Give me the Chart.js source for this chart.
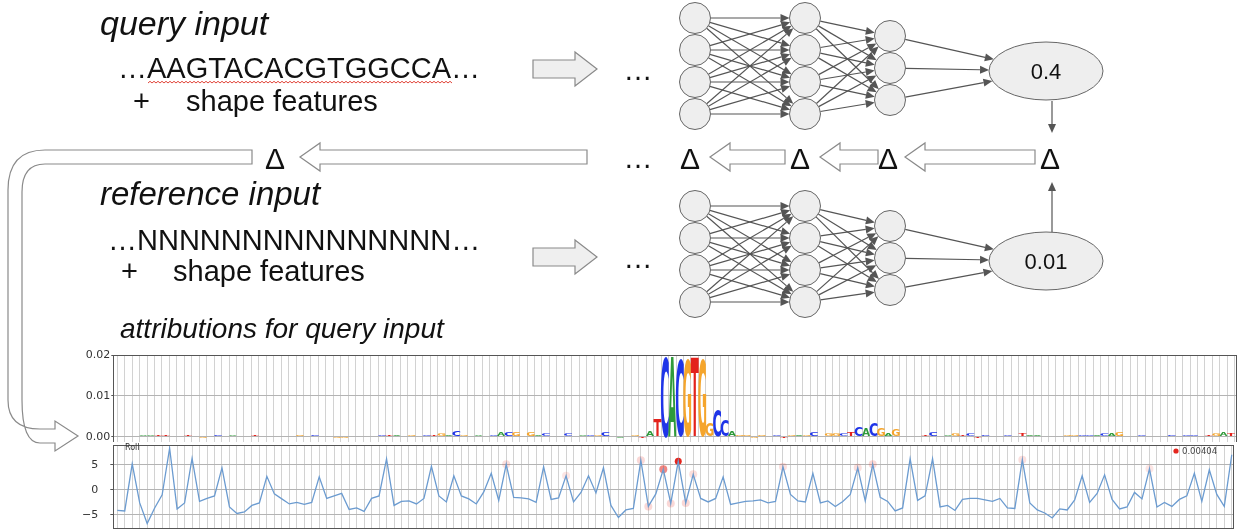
<!DOCTYPE html>
<html lang="en">
<head>
  <meta charset="UTF-8" />
  <title>DeepLIFT attributions</title>
  <script src="https://cdn.jsdelivr.net/npm/chart.js"></script>
  <style>
    html, body { margin: 0; padding: 0; background: #fff; }
    body { width: 1238px; height: 529px; overflow: hidden; position: relative; font-family: "Liberation Sans", Arial, sans-serif; }
    #diagram { position: absolute; left: 0; top: 0; z-index: 2; pointer-events: none; }
    canvas { position: absolute; }
    #logoChart { left: 80px; top: 345px; }
    #rollChart { left: 80px; top: 441px; }
    .lbl { position: absolute; font-family: "DejaVu Sans", sans-serif; color: #333; white-space: nowrap; z-index: 3; }
  </style>
</head>
<body>
  <svg id="diagram" width="1238" height="529"></svg>
  <canvas id="logoChart" width="1158" height="97"></canvas>
  <canvas id="rollChart" width="1158" height="94"></canvas>
  <div class="lbl" style="left:125px;top:443px;font-size:8px;">Roll</div>
  <div class="lbl" style="left:1182px;top:446px;font-size:8.5px;color:#444;">0.00404</div>

  <script>
    // ---- data ----
    // sequence logo (attribution per base), positions 0..149
    const logoSeq = 'AGCAATTTGTCGACGAGCTACAGCGACATGGCATACTACGACTGACGAAGCACGAGACATCAACGCTATGTATCACGTGGCCAGGGGACTGAGCAGGCTCACGAGTGGTCAAGTCTCACCATAAGACGGCCACAGTACAGACACCGTGAT';
    const logoH = [
      0.0002, 0.0001, 0.0001, 0.0003, 0.0003, 0.0004, 0.0004, 0.0002, 0.0001, 0.0004,
      0.0001, -0.0003, 0.0001, 0.0003, 0.0001, 0.0003, 0.0002, 0.0001, 0.0003, 0.0001,
      0.0001, 0.0001, 0.0002, 0.0001, 0.0003, 0.0001, 0.0003, 0.0001, 0.0001, -0.0003,
      -0.0003, 0.0001, 0.0001, 0.0001, 0.0001, 0.0004, 0.0004, 0.0005, 0.0001, 0.0005,
      0.0001, 0.0004, 0.0004, 0.0009, 0.0004, 0.0015, 0.0004, 0.0001, 0.0003, 0.0001,
      0.0005, 0.0011, 0.0012, 0.0011, 0.0002, 0.0010, 0.0005, 0.0007, 0.0001, 0.0001,
      0.0007, 0.0001, 0.0003, 0.0004, 0.0005, 0.0012, 0.0001, -0.0005, 0.0001, 0.0004,
      -0.0005, 0.0015, 0.0043, 0.0198, 0.0195, 0.0192, 0.0192, 0.0196, 0.0192, 0.0033,
      0.0065, 0.0040, 0.0015, 0.0003, 0.0003, -0.0005, 0.0003, 0.0002, 0.0005, -0.0005,
      0.0005, 0.0005, 0.0004, 0.0012, 0.0001, 0.0006, 0.0006, 0.0006, 0.0010, 0.0025,
      0.0020, 0.0032, 0.0020, 0.0008, 0.0018, 0.0002, 0.0001, -0.0002, 0.0003, 0.0012,
      0.0001, 0.0003, 0.0006, 0.0005, 0.0008, -0.0003, 0.0003, 0.0001, 0.0002, 0.0005,
      0.0001, 0.0008, 0.0004, 0.0004, 0.0001, 0.0001, 0.0001, 0.0005, 0.0005, 0.0004,
      0.0004, 0.0004, 0.0008, 0.0006, 0.0011, 0.0002, 0.0001, 0.0004, 0.0001, 0.0001,
      0.0001, 0.0003, 0.0001, 0.0004, 0.0004, 0.0001, 0.0005, 0.0006, 0.0009, 0.0007
    ];
    const logoTicks = [0, 0.01, 0.02];

    // "Roll" shape feature track
    const rollVals = [
      -4.1, -4.2, 5.2, -2.6, -6.7, -3.6, -1.0, 8.3, -3.8, -2.6,
      6.3, -2.3, -1.7, -1.2, 4.4, -3.4, -4.7, -4.4, -3.1, -2.6,
      2.7, -0.8, -1.8, -2.8, -2.5, -2.9, -2.5, 2.6, -1.7, -1.2,
      -0.7, -3.9, -3.6, -4.3, -1.7, -1.2, 6.2, -3.1, -2.3, -2.2,
      -2.8, -1.7, 4.7, -1.2, -2.4, 2.8, -1.2, -1.8, -2.8, -0.4,
      3.3, -2.1, 5.1, -1.5, -1.6, -1.8, -2.5, 4.6, -1.9, -1.6,
      2.8, -2.4, -0.5, 2.8, -0.6, 4.4, -3.1, -5.5, -4.0, -3.7,
      5.9, -3.3, -0.8, 4.1, -2.7, 5.7, -2.6, 3.1, -1.7, -2.4,
      -1.7, 2.6, -2.9, -2.6, -2.3, -2.2, -2.0, -2.6, -2.3, 4.6,
      -0.9, -2.2, -2.4, 3.3, -2.6, -2.2, -3.3, -2.3, -0.9, 4.4,
      -2.2, 5.1, -1.5, -2.3, -4.2, -3.6, 6.2, -2.1, -1.2, 6.2,
      -3.4, -3.1, -4.1, -1.9, -1.7, -1.7, -2.0, -2.3, -1.7, -3.6,
      -3.7, 6.0, -2.6, -4.0, -4.6, -5.6, -3.8, -4.0, -2.0, 2.8,
      -2.5, -0.7, 3.0, -1.9, -3.8, -3.4, -0.5, -1.8, 4.2, -3.4,
      -2.5, -3.3, -1.9, -1.2, 3.3, -2.3, 4.0, -0.9, -3.3, 7.0
    ];
    const rollTicks = [-5, 0, 5];

    // highlighted positions (red dots) and their opacity
    const markIdx   = [52, 60, 70, 71, 73, 74, 75, 76, 77, 89, 99, 101, 121, 138];
    const markAlpha = [0.15, 0.12, 0.18, 0.18, 0.55, 0.18, 1.0, 0.18, 0.15, 0.15, 0.15, 0.18, 0.15, 0.12];

    const baseColors = { A: '#2e9a3a', C: '#1f35e8', G: '#f5a52c', T: '#e3221c' };
    const xMin = -0.53, xMax = 149.3;
    const posIdx = rollVals.map((v, i) => i);

    Chart.defaults.font.family = '"DejaVu Sans", sans-serif';
    Chart.defaults.color = '#333';

    // ---- plugins ----
    const frame = {
      id: 'frame',
      afterDraw(chart) {
        const a = chart.chartArea, c = chart.ctx;
        c.save();
        c.strokeStyle = '#555';
        c.lineWidth = 1;
        c.strokeRect(Math.round(a.left) + 0.5, Math.round(a.top) + 0.5, Math.round(a.right - a.left) - 1, Math.round(a.bottom - a.top));
        c.restore();
      }
    };

    function drawLetter(c, ch, color, left, width, base, top) {
      const h = base - top;
      if (Math.abs(h) < 0.25) return;
      c.save();
      c.font = 'bold 100px "DejaVu Sans"';
      const m = c.measureText(ch);
      const gw = m.actualBoundingBoxLeft + m.actualBoundingBoxRight;
      const gh = m.actualBoundingBoxAscent;
      c.translate(left, base);
      c.scale(width / gw, h / gh);
      c.fillStyle = color;
      c.fillText(ch, m.actualBoundingBoxLeft, 0);
      c.restore();
    }

    const logoLetters = {
      id: 'logoLetters',
      afterDatasetsDraw(chart) {
        const meta = chart.getDatasetMeta(0);
        meta.data.forEach((bar, i) => {
          const ch = logoSeq[i];
          drawLetter(chart.ctx, ch, baseColors[ch], bar.x - bar.width / 2, bar.width, bar.base, bar.y);
        });
      }
    };

    const xScaleCommon = (tickLen) => ({
      type: 'linear', min: xMin, max: xMax,
      afterBuildTicks: s => { s.ticks = posIdx.map(v => ({ value: v })); },
      afterFit: s => { s.height = tickLen; s.paddingLeft = 0; s.paddingRight = 0; },
      ticks: { display: false, autoSkip: false },
      grid: { color: '#d2d2d2', lineWidth: 1, drawTicks: tickLen > 0, tickLength: tickLen, tickColor: '#555' },
      border: { display: false }
    });

    const yFit = s => { s.width = 33.3; s.paddingTop = 0; s.paddingBottom = 0; };

    // ---- logo panel ----
    new Chart(document.getElementById('logoChart'), {
      type: 'bar',
      data: {
        datasets: [{
          data: logoH.map((h, i) => ({ x: i, y: h })),
          backgroundColor: 'rgba(0,0,0,0)',
          barThickness: 8
        }]
      },
      options: {
        responsive: false, animation: false, devicePixelRatio: 1,
        layout: { padding: { top: 10, right: 1, bottom: 0, left: 0 } },
        plugins: { legend: { display: false }, tooltip: { enabled: false } },
        scales: {
          x: xScaleCommon(0),
          y: {
            min: -0.00125, max: 0.02,
            afterBuildTicks: s => { s.ticks = logoTicks.map(v => ({ value: v })); },
            afterFit: yFit,
            ticks: { font: { size: 11 }, color: '#333', padding: 1, callback: v => v.toFixed(2) },
            grid: { color: '#b4b4b4', tickLength: 2, tickColor: '#555' },
            border: { display: false }
          }
        }
      },
      plugins: [logoLetters, frame]
    });

    // ---- Roll panel ----
    new Chart(document.getElementById('rollChart'), {
      type: 'line',
      data: {
        datasets: [
          {
            label: 'Roll',
            data: rollVals.map((v, i) => ({ x: i, y: v })),
            borderColor: '#6b9bd0',
            borderWidth: 1.3,
            pointRadius: 0,
            tension: 0,
            order: 0
          },
          {
            label: '0.00404',
            type: 'scatter',
            data: markIdx.map(i => ({ x: i, y: rollVals[i] })),
            backgroundColor: markAlpha.map(a => 'rgba(228,38,30,' + a + ')'),
            borderWidth: 0,
            pointRadius: markAlpha.map(a => a > 0.9 ? 3.5 : 4),
            order: 1
          }
        ]
      },
      options: {
        responsive: false, animation: false, devicePixelRatio: 1,
        layout: { padding: { top: 1, right: 1, bottom: 3, left: 0 } },
        plugins: { legend: { display: false }, tooltip: { enabled: false } },
        scales: {
          x: xScaleCommon(4),
          y: {
            min: -7.6, max: 8.95,
            afterBuildTicks: s => { s.ticks = rollTicks.map(v => ({ value: v })); },
            afterFit: yFit,
            ticks: { font: { size: 11 }, color: '#333', padding: 12, callback: v => v.toString().replace('-', '\u2212') },
            grid: { color: '#b4b4b4', tickLength: 3, tickColor: '#555' },
            border: { display: false }
          }
        }
      },
      plugins: [frame]
    });

    // ---- diagram (networks, arrows, labels) ----
    const svg = document.getElementById('diagram');
    const NS = 'http://www.w3.org/2000/svg';
    function el(tag, attrs, text) {
      const e = document.createElementNS(NS, tag);
      for (const k in attrs) e.setAttribute(k, attrs[k]);
      if (text !== undefined) e.textContent = text;
      svg.appendChild(e);
      return e;
    }
    function txt(x, y, s, size, extra) {
      return el('text', Object.assign({ x, y, 'font-size': size, fill: '#111', 'font-family': '"Liberation Sans", Arial, sans-serif' }, extra || {}), s);
    }

    // legend dot next to 0.00404
    el('circle', { cx: 1176, cy: 451, r: 2.6, fill: '#e4261e' });

    // texts
    txt(100, 35, 'query input', 34, { 'font-style': 'italic' });
    txt(118, 78, '\u2026AAGTACACGTGGCCA\u2026', 29);
    txt(133, 111, '+', 29);
    txt(186, 111, 'shape features', 29);
    txt(100, 205, 'reference input', 33, { 'font-style': 'italic' });
    txt(108, 250, '\u2026NNNNNNNNNNNNNNN\u2026', 29);
    txt(121, 281, '+', 29);
    txt(173, 281, 'shape features', 29);
    txt(120, 338, 'attributions for query input', 28, { 'font-style': 'italic' });

    // red spell-check squiggle
    let sq = 'M148,83';
    for (let x = 150, k = 0; x <= 452; x += 2, k++) sq += ' L' + x + ',' + (k % 2 ? 83 : 81.3);
    el('path', { d: sq, fill: 'none', stroke: '#e0453a', 'stroke-width': 1 });

    // dots
    txt(638, 80, '\u2026', 29, { 'text-anchor': 'middle' });
    txt(638, 168, '\u2026', 29, { 'text-anchor': 'middle' });
    txt(638, 268, '\u2026', 29, { 'text-anchor': 'middle' });

    // deltas
    [275, 690, 800, 888, 1050].forEach(x => txt(x, 169, '\u0394', 30, { 'text-anchor': 'middle' }));

    // block arrows
    function leftArrow(tip, tail, yc, bodyH, headH, headL, fill) {
      const pts = [[tip, yc], [tip + headL, yc - headH / 2], [tip + headL, yc - bodyH / 2], [tail, yc - bodyH / 2],
                   [tail, yc + bodyH / 2], [tip + headL, yc + bodyH / 2], [tip + headL, yc + headH / 2]];
      el('polygon', { points: pts.map(p => p.join(',')).join(' '), fill, stroke: '#8a8a8a', 'stroke-width': 1.2 });
    }
    function rightArrow(tail, tip, yc, bodyH, headH, headL, fill) {
      const pts = [[tip, yc], [tip - headL, yc - headH / 2], [tip - headL, yc - bodyH / 2], [tail, yc - bodyH / 2],
                   [tail, yc + bodyH / 2], [tip - headL, yc + bodyH / 2], [tip - headL, yc + headH / 2]];
      el('polygon', { points: pts.map(p => p.join(',')).join(' '), fill, stroke: '#8a8a8a', 'stroke-width': 1.2 });
    }
    rightArrow(533, 597, 69, 18, 34, 22, '#efefef');
    rightArrow(533, 597, 257, 18, 34, 22, '#efefef');
    leftArrow(905, 1035, 157, 14, 28, 20, '#fff');
    leftArrow(820, 878, 157, 14, 28, 20, '#fff');
    leftArrow(710, 785, 157, 14, 28, 20, '#fff');
    leftArrow(300, 587, 157, 14, 28, 20, '#fff');

    // curved hollow arrow into the logo panel
    el('path', {
      d: 'M252,150 L45,150 Q8,150 8,190 L8,400 Q8,429 40,429 L55,429 L55,421 L78,436 L55,451 L55,443 L40,443 Q22,443 22,400 L22,192 Q22,164 45,164 L252,164 Z',
      fill: '#fff', stroke: '#8a8a8a', 'stroke-width': 1.2
    });

    // networks
    function arrowLine(x1, y1, x2, y2) {
      const dx = x2 - x1, dy = y2 - y1, L = Math.hypot(dx, dy), ux = dx / L, uy = dy / L;
      const hl = 9, hw = 4;
      const bx = x2 - ux * hl, by = y2 - uy * hl;
      el('line', { x1, y1, x2: bx, y2: by, stroke: '#555', 'stroke-width': 1.2 });
      el('polygon', { points: [x2, y2, bx - uy * hw, by + ux * hw, bx + uy * hw, by - ux * hw].join(','), fill: '#555' });
    }
    function net(c1, c2, c3, out, label) {
      const r = 15.5;
      const cols = [c1, c2, c3];
      for (let k = 0; k < 2; k++) {
        cols[k].ys.forEach(ya => cols[k + 1].ys.forEach(yb => {
          const dx = cols[k + 1].x - cols[k].x, dy = yb - ya, L = Math.hypot(dx, dy);
          arrowLine(cols[k].x + dx / L * r, ya + dy / L * r, cols[k + 1].x - dx / L * r, yb - dy / L * r);
        }));
      }
      c3.ys.forEach(ya => {
        const dx = out.x - c3.x, dy = out.y - ya;
        let lo = 0, hi = 1;
        for (let it = 0; it < 30; it++) {
          const t = (lo + hi) / 2, px = c3.x + dx * t, py = ya + dy * t;
          if (((px - out.x) / out.rx) ** 2 + ((py - out.y) / out.ry) ** 2 > 1) lo = t; else hi = t;
        }
        const L = Math.hypot(dx, dy);
        arrowLine(c3.x + dx / L * r, ya + dy / L * r, c3.x + dx * lo, ya + dy * lo);
      });
      cols.forEach(col => col.ys.forEach(y => el('circle', { cx: col.x, cy: y, r, fill: '#eeeeee', stroke: '#666', 'stroke-width': 1 })));
      el('ellipse', { cx: out.x, cy: out.y, rx: out.rx, ry: out.ry, fill: '#eeeeee', stroke: '#666', 'stroke-width': 1 });
      txt(out.x, out.y + 8, label, 22, { 'text-anchor': 'middle' });
    }
    net({ x: 695, ys: [18, 50, 82, 114] }, { x: 805, ys: [18, 50, 82, 114] }, { x: 890, ys: [36, 68, 100] },
        { x: 1046, y: 71, rx: 57, ry: 29 }, '0.4');
    net({ x: 695, ys: [206, 238, 270, 302] }, { x: 805, ys: [206, 238, 270, 302] }, { x: 890, ys: [226, 258, 290] },
        { x: 1046, y: 261, rx: 57, ry: 29 }, '0.01');
    arrowLine(1052, 101, 1052, 133);
    arrowLine(1052, 232, 1052, 182);
  </script>
</body>
</html>
